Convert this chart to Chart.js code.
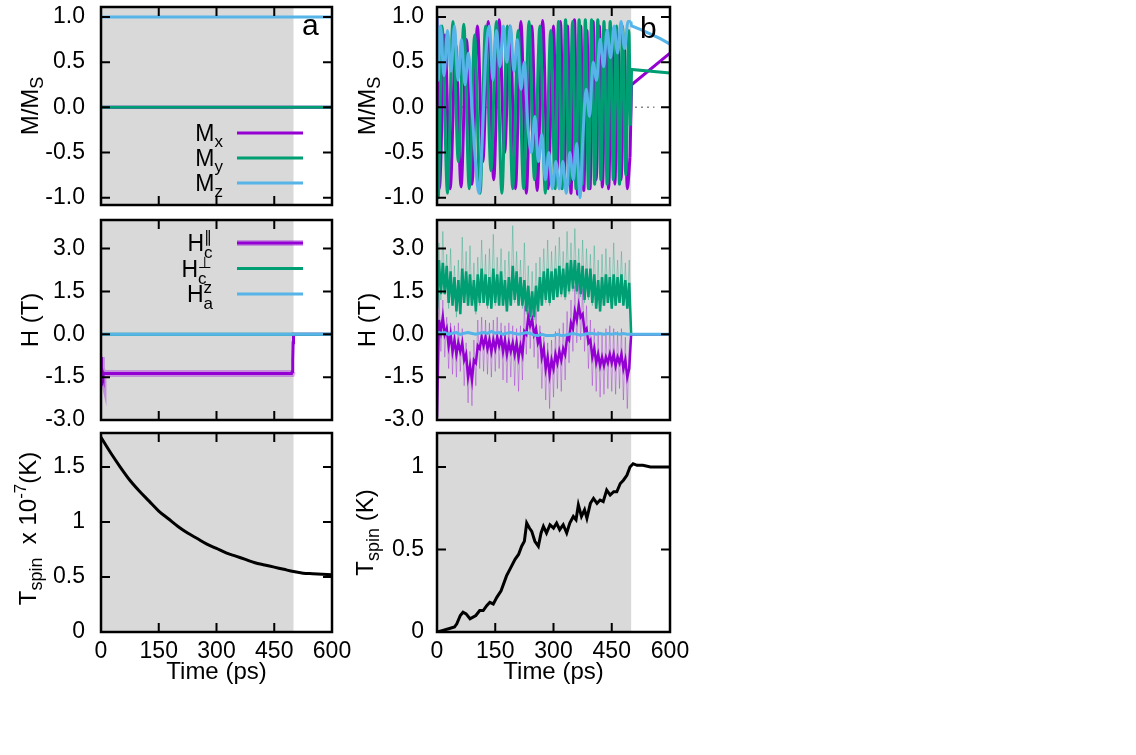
<!DOCTYPE html>
<html>
<head>
<meta charset="utf-8">
<script src="https://cdn.jsdelivr.net/npm/chart.js@4.4.0/dist/chart.umd.min.js"></script>
<style>
  body { margin: 0; background: #fff; width: 1136px; height: 755px; position: relative; overflow: hidden; }
  canvas { position: absolute; }
</style>
</head>
<body>
<canvas id="aTop"></canvas>
<canvas id="aMid"></canvas>
<canvas id="aBot"></canvas>
<canvas id="bTop"></canvas>
<canvas id="bMid"></canvas>
<canvas id="bBot"></canvas>
<script>
// ---- axes ----
const xTicks = [0, 150, 300, 450, 600];
const xLabels = ['0', '150', '300', '450', '600'];
const mTicks = [-1, -0.5, 0, 0.5, 1];
const mLabels = ['-1.0', '-0.5', '0.0', '0.5', '1.0'];
const hTicks = [-3, -1.5, 0, 1.5, 3];
const hLabels = ['-3.0', '-1.5', '0.0', '1.5', '3.0'];
const taTicks = [0, 0.5, 1, 1.5];
const taLabels = ['0', '0.5', '1', '1.5'];
const tbTicks = [0, 0.5, 1];
const tbLabels = ['0', '0.5', '1'];
const shadeRange = [0, 500];

// ---- panel a ----
const aTime = [0, 600];
const aMx = [0, 0];
const aMy = [0, 0];
const aMz = [1, 1];

const aHcParT = [0, 1, 3, 5, 10, 495, 497, 498, 499, 500, 600];
const aHcParV = [-0.8, -1.8, -1.3, -1.42, -1.37, -1.37, -1.3, -0.9, -0.3, 0, 0];
const aHcPerp = [0, 0];
const aHaz = [0, 0];

const aTspinT = [0, 25, 50, 75, 100, 125, 150, 175, 200, 225, 250, 275, 300, 325, 350, 375, 400, 425, 450, 475, 500, 525, 550, 575, 600];
const aTspinV = [1.77, 1.63, 1.50, 1.38, 1.28, 1.19, 1.10, 1.03, 0.96, 0.90, 0.85, 0.80, 0.76, 0.72, 0.69, 0.66, 0.63, 0.61, 0.59, 0.57, 0.55, 0.535, 0.53, 0.525, 0.52];

// ---- panel b ----
// magnetisation during the pulse (turning points) ...
const bMxT = [0, 6, 20, 34, 48, 62, 76, 90, 104, 118, 132, 146, 160, 174, 188, 202, 216, 230, 244, 258, 272, 286, 300, 309, 318, 327, 336, 345, 354, 362, 370, 378, 386, 394, 402, 410, 418, 426, 434, 442, 450, 458, 466, 474, 482, 490, 497];
const bMxV = [1.0, -0.9, 0.8, -0.9, 0.7, -0.88, 0.75, -0.85, 0.9, -0.6, 0.95, -0.8, 0.97, -0.5, 0.9, -0.9, 0.95, -0.95, 0.9, -0.92, 0.96, -0.9, 0.9, -0.7, 0.95, -0.85, 0.9, -0.95, 0.97, -0.96, 0.9, -0.92, 0.85, -0.9, 0.95, -0.8, 0.9, -0.88, 0.85, -0.9, 0.8, -0.85, 0.75, -0.8, 0.7, -0.9, -0.55];
const bMyT = [0, 3, 13, 27, 41, 55, 69, 83, 97, 111, 125, 139, 153, 167, 181, 195, 209, 223, 237, 251, 265, 279, 293, 304, 313, 322, 331, 340, 349, 358, 366, 374, 382, 390, 398, 406, 414, 422, 430, 438, 446, 454, 462, 470, 478, 486, 494, 498];
const bMyV = [0.0, -1.0, 0.9, -0.95, 0.95, -0.6, 0.92, -0.9, 0.8, -0.95, 0.9, -0.7, 0.95, -0.95, 0.9, -0.9, 0.85, -0.9, 0.95, -0.8, 0.9, -0.95, 0.85, -0.9, 0.95, -0.9, 0.97, -0.85, 0.95, -0.9, 0.97, -0.85, 0.97, -0.9, 0.97, -0.85, 0.97, -0.8, 0.95, -0.85, 0.95, -0.8, 0.9, -0.85, 0.9, -0.75, 0.85, -0.2];
const bMzT = [0, 3, 9, 18, 27, 36, 45, 54, 63, 72, 81, 90, 99, 108, 117, 126, 135, 144, 153, 162, 171, 180, 189, 198, 207, 216, 225, 234, 243, 252, 261, 270, 279, 288, 297, 306, 315, 324, 333, 342, 351, 360, 368, 376, 384, 393, 402, 411, 420, 429, 438, 447, 456, 465, 474, 483, 492, 499];
const bMzV = [1.0, 0.3, 0.9, 0.35, 0.85, 0.4, 0.9, 0.3, 0.75, 0.25,
  0.6, 0.0, -0.6, -0.95, -0.3, 0.6, 0.9, 0.3, 0.85, 0.45,
  0.9, 0.5, 0.9, 0.4, 0.75, 0.2, 0.5, -0.2, -0.5, -0.1,
  -0.6, -0.3, -0.8, -0.5, -0.9, -0.6, -0.9, -0.6, -0.95, -0.5,
  -0.8, -0.4, -1.0, -0.3, 0.2, -0.1, 0.5, 0.3, 0.75, 0.45,
  0.85, 0.55, 0.9, 0.6, 0.95, 0.65, 0.95, 0.95];
// ... and after it (coarse output, straight segments)
const bMxTailT = [497, 501, 600];
const bMxTailV = [-0.55, 0.25, 0.6];
const bMyTailT = [498, 501, 600];
const bMyTailV = [-0.2, 0.42, 0.38];
const bMzTailT = [499, 501, 525, 550, 575, 600];
const bMzTailV = [0.95, 0.9, 0.86, 0.81, 0.76, 0.70];
const bZeroT = [0, 560];
const bZeroV = [0, 0];

// fields, sampled every 5 ps over the pulse
const bFineT = [];
for (let t = 0; t <= 500; t += 5) bFineT.push(t);
const bPerpLight = [1.0, 3.2, 1.2, 3.6, 1.4, 2.8, 0.9, 3.0, 1.0, 2.4,
  0.6, 2.6, 0.8, 3.4, 1.1, 2.9, 1.0, 3.1, 1.0, 2.5,
  0.7, 2.7, 1.0, 3.3, 1.1, 2.8, 0.9, 3.0, 0.9, 3.5,
  1.0, 2.7, 1.1, 3.0, 1.0, 2.6, 0.8, 2.9, 1.0, 3.8,
  1.1, 2.9, 1.0, 2.6, 0.9, 3.2, 0.7, 2.4, 0.5, 2.2,
  0.5, 2.5, 0.8, 2.7, 1.0, 3.0, 1.1, 3.3, 1.0, 2.9,
  1.2, 3.1, 1.3, 3.4, 1.3, 2.9, 1.2, 3.6, 1.4, 3.2,
  1.5, 3.7, 1.4, 3.0, 1.3, 3.3, 1.1, 3.0, 1.2, 2.8,
  1.0, 3.1, 0.9, 2.6, 0.8, 2.8, 1.0, 3.0, 1.1, 2.7,
  0.9, 3.2, 1.0, 2.6, 1.1, 2.9, 1.0, 2.5, 0.9, 2.6, 0.0];
const bPerpDark = [0.9, 2.6, 1.4, 2.5, 1.4, 2.4, 1.1, 2.2, 1.0, 2.0,
  0.8, 1.9, 0.7, 2.3, 1.1, 2.2, 1.0, 2.1, 1.0, 1.9,
  0.8, 2.1, 1.1, 2.3, 1.1, 2.1, 1.0, 2.0, 0.9, 2.3,
  1.1, 2.1, 1.0, 2.2, 1.0, 1.9, 0.8, 2.0, 1.0, 2.4,
  1.2, 2.2, 1.0, 2.0, 1.0, 1.9, 0.8, 1.7, 0.6, 1.5,
  0.6, 1.7, 0.8, 2.0, 1.0, 2.2, 1.2, 2.3, 1.1, 2.2,
  1.2, 2.3, 1.3, 2.4, 1.4, 2.3, 1.3, 2.5, 1.5, 2.6,
  1.6, 2.6, 1.5, 2.5, 1.4, 2.4, 1.2, 2.3, 1.3, 2.3,
  1.1, 2.1, 0.9, 1.9, 0.8, 2.0, 1.0, 2.1, 1.1, 2.0,
  0.9, 2.1, 1.0, 2.0, 1.1, 2.1, 1.0, 1.9, 0.9, 1.8, 0.0];
const bParLight = [-3.0, 1.4, -0.6, 1.2, -0.8, 0.6, -1.2, 0.4, -1.4, 0.3,
  -1.5, 0.4, -1.3, 0.2, -1.8, -0.3, -2.4, -0.6, -2.5, -0.2,
  -1.8, 0.5, -1.2, 0.6, -1.3, 0.5, -1.4, 0.4, -1.5, 0.5,
  -1.3, 0.6, -1.2, 0.4, -1.6, 0.3, -1.7, 0.4, -1.5, 0.3,
  -1.8, 0.2, -2.0, 0.3, -1.6, 1.0, -0.7, 1.6, -0.5, 1.3,
  -0.8, 0.8, -1.2, 0.3, -1.9, -0.1, -2.3, -0.3, -2.6, -0.2,
  -2.2, 0.1, -1.9, 0.2, -2.0, 0.4, -1.6, 0.8, -1.0, 1.2,
  -0.6, 1.7, -0.3, 1.9, -0.2, 1.6, -0.6, 1.0, -1.2, 0.5,
  -1.8, 0.2, -2.0, 0.1, -2.2, 0.0, -2.1, 0.2, -1.9, 0.3,
  -2.0, 0.2, -2.1, 0.1, -1.9, 0.2, -2.3, -0.1, -2.6, -0.4, 0.0];
const bParDark = [-2.9, 0.5, 0.1, 0.6, 0.0, 0.2, -0.4, 0.0, -0.6, -0.2,
  -0.7, -0.3, -0.6, -0.3, -0.9, -0.7, -1.5, -1.1, -1.6, -0.9,
  -1.0, -0.4, -0.5, -0.1, -0.4, -0.1, -0.5, -0.2, -0.6, -0.2,
  -0.5, -0.1, -0.4, -0.1, -0.6, -0.2, -0.7, -0.3, -0.6, -0.3,
  -0.7, -0.3, -0.8, -0.4, -0.7, 0.1, 0.0, 0.6, 0.3, 0.5,
  0.0, 0.2, -0.3, -0.1, -0.8, -0.5, -1.2, -0.8, -1.4, -0.9,
  -1.2, -0.7, -1.0, -0.6, -0.9, -0.5, -0.7, -0.1, -0.2, 0.4,
  0.2, 0.8, 0.5, 1.0, 0.6, 0.7, 0.1, 0.2, -0.3, -0.2,
  -0.8, -0.5, -1.0, -0.7, -1.1, -0.8, -1.1, -0.8, -1.0, -0.7,
  -1.0, -0.7, -1.1, -0.8, -1.0, -0.7, -1.2, -0.9, -1.5, -1.2, 0.0];
const bHazT = [0, 10, 20, 30, 40, 50, 60, 70, 80, 90, 100, 110, 120, 130, 140, 150, 160, 170, 180, 190, 200, 210, 220, 230, 240, 250, 260, 270, 280, 290, 300, 310, 320, 330, 340, 350, 360, 370, 380, 390, 400, 410, 420, 430, 440, 450, 460, 470, 480, 490, 500, 600];
const bHazV = [0.08, 0.04, 0.06, 0.0, 0.04, 0.06, 0.0, 0.04, 0.06, 0.03, 0.0, 0.04, 0.06, 0.03, 0.1, 0.04, 0.06, 0.0, 0.04, 0.06, 0.03, 0.0, 0.03, 0.06, 0.03, -0.03, -0.04, 0.0, -0.04, -0.04, -0.04, 0.0, -0.04, -0.03, 0.0, 0.03, 0.0, -0.03, 0.0, 0.03, 0.03, 0.0, 0.03, 0.0, 0.03, 0.0, 0.03, 0.0, 0.03, 0.0, 0.0, 0.0];

const bTspinT = [0, 15, 30, 45, 51, 60, 67, 75, 85, 100, 110, 119, 128, 136, 145, 154, 165, 179, 190, 201, 210, 218, 225, 231, 238, 244, 252, 261, 268, 274, 282, 291, 300, 308, 316, 325, 334, 342, 351, 358, 364, 372, 380, 386, 395, 403, 412, 420, 428, 437, 446, 455, 463, 472, 480, 489, 497, 505, 515, 530, 550, 575, 600];
const bTspinV = [0.0, 0.01, 0.02, 0.03, 0.05, 0.10, 0.12, 0.11, 0.08, 0.1, 0.13, 0.13, 0.16, 0.18, 0.17, 0.21, 0.25, 0.34, 0.39, 0.44, 0.47, 0.52, 0.55, 0.66, 0.63, 0.61, 0.55, 0.52, 0.6, 0.64, 0.6, 0.65, 0.63, 0.66, 0.62, 0.65, 0.6, 0.66, 0.70, 0.68, 0.77, 0.7, 0.74, 0.69, 0.78, 0.81, 0.78, 0.8, 0.79, 0.86, 0.83, 0.85, 0.85, 0.9, 0.92, 0.95, 1.0, 1.02, 1.01, 1.01, 1.0, 1.0, 1.0];

// ---- style ----
const FONT = "'Liberation Sans', Arial, 'DejaVu Sans', sans-serif";
const PURPLE = '#9400d3', PURPLE_L = 'rgba(148,0,211,0.33)';
const GREEN = '#009e73', GREEN_L = 'rgba(0,158,115,0.33)';
const BLUE = '#56b4e9';
const TICK_SIZE = 23, TITLE_SIZE = 24, KEY_SIZE = 23;

Chart.defaults.font.family = FONT;
Chart.defaults.font.size = TICK_SIZE;
Chart.defaults.color = '#000';

function pts(ts, vs) { return ts.map((t, i) => ({ x: t, y: vs[i] })); }
function tail(list) { return list.concat([{ x: 600, y: 0 }]); }
function line(data, color, width, extra) {
  return Object.assign({ data, borderColor: color, borderWidth: width, pointRadius: 0, fill: false, tension: 0 }, extra || {});
}

// text with sub/superscripts: parts = [{t, s, dy, stack}]
function drawRich(ctx, parts, x, y, align, base) {
  let w = 0;
  parts.forEach(p => {
    ctx.font = (p.s || base) + 'px ' + FONT;
    p.w = ctx.measureText(p.t).width;
    if (!p.stack) w += p.w;
  });
  let cx = align === 'center' ? x - w / 2 : align === 'right' ? x - w : x;
  ctx.textAlign = 'left';
  ctx.textBaseline = 'alphabetic';
  parts.forEach(p => {
    ctx.font = (p.s || base) + 'px ' + FONT;
    ctx.fillText(p.t, cx, y + (p.dy || 0));
    if (!p.stack) cx += p.w;
  });
}

const deco = {
  id: 'deco',
  beforeDatasetsDraw(chart, args, o) {
    const { ctx, chartArea: a } = chart, x = chart.scales.x;
    const x0 = x.getPixelForValue(shadeRange[0]), x1 = x.getPixelForValue(shadeRange[1]);
    ctx.save();
    ctx.fillStyle = '#d9d9d9';
    ctx.fillRect(x0, a.top, x1 - x0, a.bottom - a.top);
    ctx.restore();
  },
  afterDatasetsDraw(chart, args, o) {
    const { ctx, chartArea: a } = chart, x = chart.scales.x, y = chart.scales.y;
    ctx.save();
    ctx.strokeStyle = '#000';
    ctx.lineWidth = 2;
    ctx.beginPath();
    x.ticks.forEach(t => {
      const px = x.getPixelForValue(t.value);
      ctx.moveTo(px, a.top); ctx.lineTo(px, a.top + 9);
      ctx.moveTo(px, a.bottom); ctx.lineTo(px, a.bottom - 9);
    });
    y.ticks.forEach(t => {
      const py = y.getPixelForValue(t.value);
      ctx.moveTo(a.left, py); ctx.lineTo(a.left + 9, py);
      ctx.moveTo(a.right, py); ctx.lineTo(a.right - 9, py);
    });
    ctx.stroke();
    ctx.lineWidth = 2.5;
    ctx.strokeRect(a.left, a.top, a.right - a.left, a.bottom - a.top);

    if (o.legend) {
      const L = o.legend;
      L.rows.forEach((r, i) => {
        const ly = a.top + L.y + i * L.dy;
        if (r.halo) {
          ctx.strokeStyle = r.halo; ctx.lineWidth = 6;
          ctx.beginPath(); ctx.moveTo(L.x0, ly); ctx.lineTo(L.x1, ly); ctx.stroke();
        }
        ctx.strokeStyle = r.color; ctx.lineWidth = 3;
        ctx.beginPath(); ctx.moveTo(L.x0, ly); ctx.lineTo(L.x1, ly); ctx.stroke();
        ctx.fillStyle = '#000';
        drawRich(ctx, r.parts, L.tx, ly + 8, 'right', KEY_SIZE);
      });
    }
    if (o.letter) {
      ctx.fillStyle = '#000';
      ctx.font = '30px ' + FONT;
      ctx.textAlign = 'left';
      ctx.textBaseline = 'alphabetic';
      ctx.fillText(o.letter, a.right - 30, a.top + o.letterY);
    }
    ctx.restore();
  },
  afterDraw(chart, args, o) {
    const { ctx, chartArea: a } = chart;
    ctx.save();
    ctx.fillStyle = '#000';
    if (o.yTitle) {
      ctx.translate(o.yTitleX, (a.top + a.bottom) / 2 + (o.yTitleDy || 0));
      ctx.rotate(-Math.PI / 2);
      drawRich(ctx, o.yTitle, 0, 0, 'center', TITLE_SIZE);
    }
    ctx.restore();
    if (o.xTitle) {
      ctx.save();
      ctx.fillStyle = '#000';
      drawRich(ctx, [{ t: o.xTitle }], (a.left + a.right) / 2, a.bottom + 47, 'center', TITLE_SIZE);
      ctx.restore();
    }
  }
};
Chart.register(deco);

function yAxis(min, max, ticks, labels, width, pad) {
  return {
    min, max,
    border: { display: false },
    grid: { display: false, drawTicks: false },
    ticks: { padding: pad, autoSkip: false, callback: (v, i) => labels[i] },
    afterBuildTicks: s => { s.ticks = ticks.map(v => ({ value: v })); },
    afterFit: s => { s.width = width; s.paddingTop = 0; s.paddingBottom = 0; }
  };
}
function xAxis(height) {
  return {
    type: 'linear', min: 0, max: 600, display: height > 0,
    border: { display: false },
    grid: { display: false, drawTicks: false },
    ticks: { padding: 6, autoSkip: false, maxRotation: 0, callback: (v, i) => xLabels[i] },
    afterBuildTicks: s => { s.ticks = xTicks.map(v => ({ value: v })); },
    afterFit: s => { s.height = height; s.paddingLeft = 0; s.paddingRight = 0; }
  };
}

// datasets are listed bottom-to-top; Chart.js paints the first one last
function panel(id, left, top, w, h, pad, y, xH, datasets, decoOpts) {
  const c = document.getElementById(id);
  c.style.left = left + 'px';
  c.style.top = top + 'px';
  c.width = w; c.height = h;
  c.style.width = w + 'px'; c.style.height = h + 'px';
  new Chart(c, {
    type: 'line',
    data: { datasets: datasets.slice().reverse() },
    options: {
      responsive: false,
      animation: false,
      layout: { padding: pad },
      plugins: { legend: { display: false }, tooltip: { enabled: false }, deco: decoOpts },
      scales: { x: xAxis(xH), y }
    }
  });
}

const mTitle = [{ t: 'M/M' }, { t: 'S', s: 18, dy: 5 }];
const hTitle = [{ t: 'H (T)' }];
const mono = { cubicInterpolationMode: 'monotone' };

// left column: canvas x 0..360, plot 101..332
// right column: canvas x 340..710, plot 437..670
panel('aTop', 0, 0, 360, 215, { top: 7, right: 28, bottom: 10, left: 0 },
  yAxis(-1.08, 1.11, mTicks, mLabels, 101, 16), 0, [
    line(pts(aTime, aMx), PURPLE, 3),
    line(pts(aTime, aMy), GREEN, 3),
    line(pts(aTime, aMz), BLUE, 3)
  ], {
    yTitle: mTitle, yTitleX: 38, letter: 'a', letterY: 28,
    legend: { x0: 237, x1: 303, tx: 223, y: 126, dy: 25, rows: [
      { color: PURPLE, parts: [{ t: 'M' }, { t: 'x', s: 17, dy: 6 }] },
      { color: GREEN, parts: [{ t: 'M' }, { t: 'y', s: 17, dy: 6 }] },
      { color: BLUE, parts: [{ t: 'M' }, { t: 'z', s: 17, dy: 6 }] }
    ] }
  });

panel('aMid', 0, 212, 360, 224, { top: 8, right: 28, bottom: 16, left: 0 },
  yAxis(-3, 4, hTicks, hLabels, 101, 16), 0, [
    line(pts(aHcParT, aHcParV).filter(p => p.x < 498), PURPLE_L, 7),
    line(pts(aHcParT, aHcParV), PURPLE, 3),
    line(pts(aTime, aHcPerp), GREEN, 3),
    line(pts(aTime, aHaz), BLUE, 3)
  ], {
    yTitle: hTitle, yTitleX: 38,
    legend: { x0: 237, x1: 303, tx: 212, y: 23, dy: 25.5, rows: [
      { color: PURPLE, halo: PURPLE_L, parts: [{ t: 'H' }, { t: 'c', s: 17, dy: 7, stack: true }, { t: '\u2225', s: 16, dy: -9 }] },
      { color: GREEN, parts: [{ t: 'H' }, { t: 'c', s: 17, dy: 7, stack: true }, { t: '\u22a5', s: 16, dy: -9 }] },
      { color: BLUE, parts: [{ t: 'H' }, { t: 'a', s: 17, dy: 7, stack: true }, { t: 'z', s: 17, dy: -9 }] }
    ] }
  });

panel('aBot', 0, 425, 360, 300, { top: 8, right: 28, bottom: 0, left: 0 },
  yAxis(0, 1.81, taTicks, taLabels, 101, 16), 93, [
    line(pts(aTspinT, aTspinV), '#000', 3, mono)
  ], {
    yTitle: [{ t: 'T' }, { t: 'spin', s: 18, dy: 6 }, { t: '  x 10' }, { t: '-7', s: 17, dy: -10 }, { t: '(K)' }],
    yTitleX: 36, yTitleDy: -4, xTitle: 'Time (ps)'
  });

panel('bTop', 340, 0, 370, 215, { top: 7, right: 40, bottom: 10, left: 0 },
  yAxis(-1.08, 1.11, mTicks, mLabels, 97, 13), 0, [
    line(pts(bZeroT, bZeroV), '#888', 1.5, { borderDash: [2, 4] }),
    line(pts(bMxT, bMxV), PURPLE, 3, mono),
    line(pts(bMxTailT, bMxTailV), PURPLE, 3),
    line(pts(bMyT, bMyV), GREEN, 3, mono),
    line(pts(bMyTailT, bMyTailV), GREEN, 3),
    line(pts(bMzT, bMzV), BLUE, 3, mono),
    line(pts(bMzTailT, bMzTailV), BLUE, 3)
  ], { yTitle: mTitle, yTitleX: 35, letter: 'b', letterY: 31 });

panel('bMid', 340, 212, 370, 224, { top: 8, right: 40, bottom: 16, left: 0 },
  yAxis(-3, 4, hTicks, hLabels, 97, 13), 0, [
    line(tail(pts(bFineT, bPerpLight)), GREEN_L, 1),
    line(tail(pts(bFineT, bParLight)), PURPLE_L, 1),
    line(tail(pts(bFineT, bPerpDark)), GREEN, 2.5),
    line(tail(pts(bFineT, bParDark)), PURPLE, 2.5),
    line(pts(bHazT, bHazV), BLUE, 3)
  ], { yTitle: hTitle, yTitleX: 35 });

panel('bBot', 340, 425, 370, 300, { top: 8, right: 40, bottom: 0, left: 0 },
  yAxis(0, 1.206, tbTicks, tbLabels, 97, 13), 93, [
    line(pts(bTspinT, bTspinV), '#000', 3)
  ], {
    yTitle: [{ t: 'T' }, { t: 'spin', s: 18, dy: 6 }, { t: ' (K)' }],
    yTitleX: 33, xTitle: 'Time (ps)'
  });
</script>
</body>
</html>
